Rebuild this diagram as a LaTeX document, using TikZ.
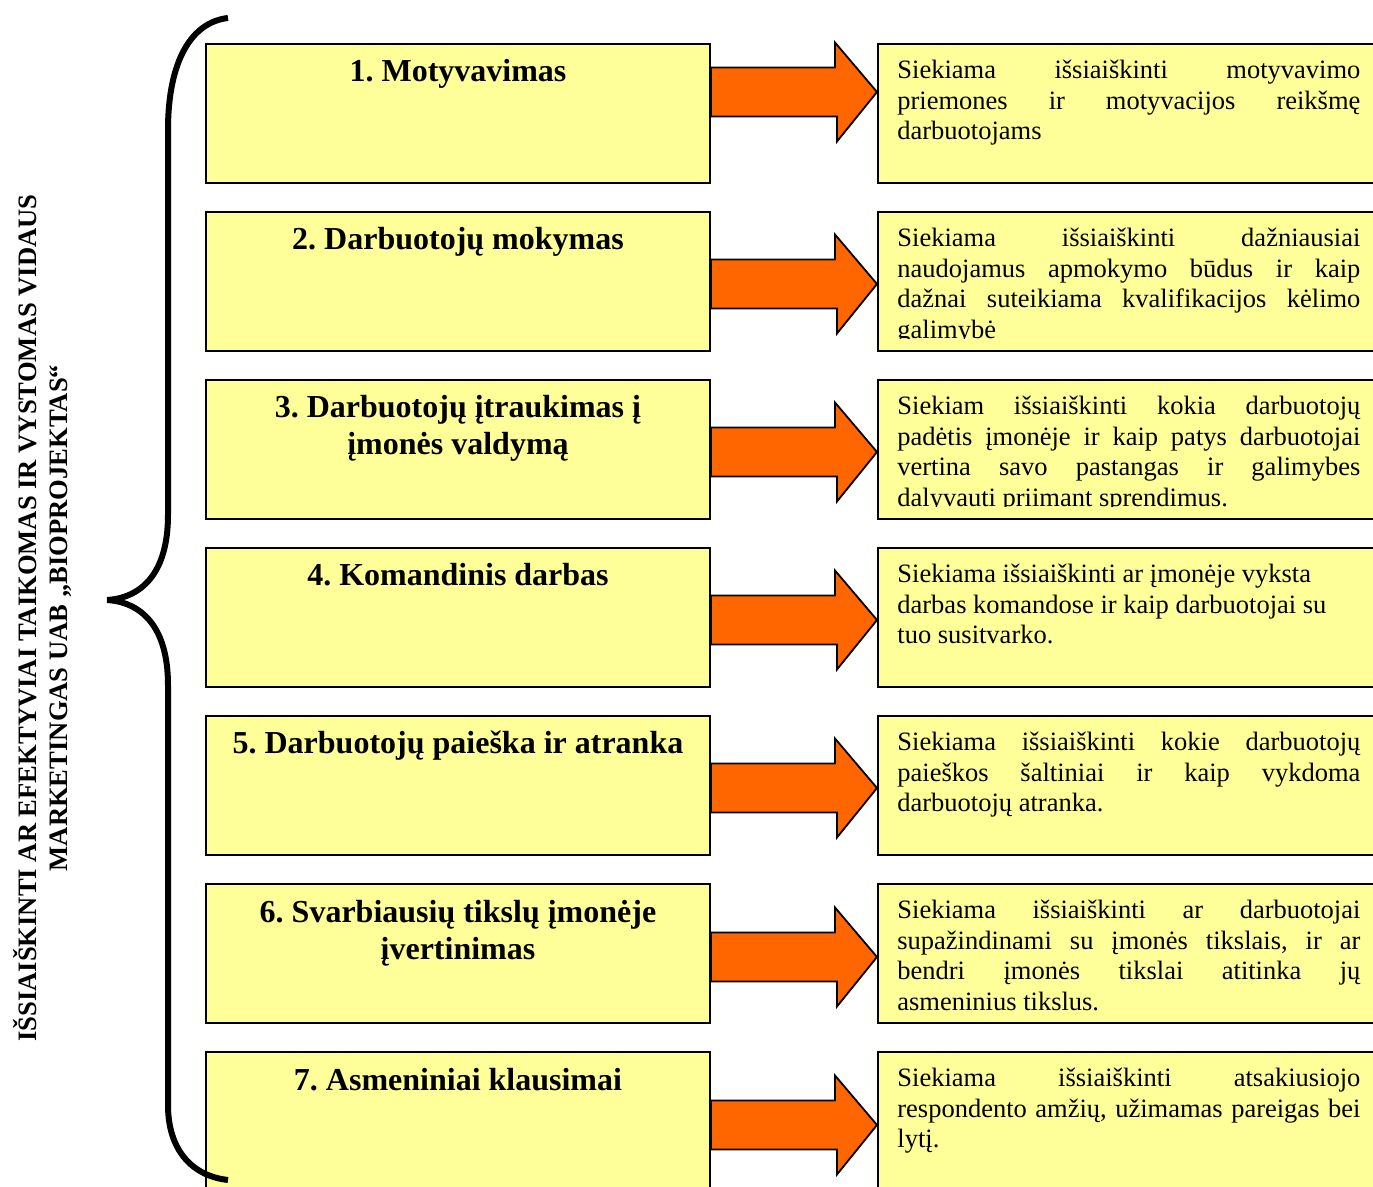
\documentclass[tikz,border=0pt]{standalone}
\usepackage{fontspec}
\setmainfont{Liberation Serif}
\usetikzlibrary{calc}
\definecolor{boxyellow}{HTML}{FFFF99}
\definecolor{arroworange}{HTML}{FF6600}
\frenchspacing
% one fully justified line of a description
\newcommand\jline[1]{\makebox[\linewidth][s]{#1}\par}
\newcommand\rline[1]{\mbox{#1}\par}
\newcommand\descfont{\fontsize{13.25pt}{15.25pt}\selectfont}
\newcommand\titlefont{\bfseries\fontsize{16pt}{18.5pt}\selectfont}

\begin{document}
\begin{tikzpicture}[x=0.5pt,y=-0.5pt,
  lbox/.style={draw=black, line width=1pt, fill=boxyellow, rectangle,
    inner sep=0pt, minimum width=252pt, minimum height=69.5pt, anchor=north west},
  rbox/.style={lbox, minimum width=262pt},
  bigarrow/.style={draw=black, line width=0.9pt, fill=arroworange, line join=miter},
  brace/.style={draw=black, line width=3pt},
  title/.style={anchor=base, inner sep=0pt},
  desc/.style={anchor=base west, inner sep=0pt}]

\useasboundingbox (0,0) rectangle (1373,1187);
\clip (0,0) rectangle (1373,1187);

% side heading
\node[rotate=90, inner sep=0pt, align=center,
      font=\bfseries\fontsize{13.3pt}{15.5pt}\selectfont] (head) at (43,618)
  {IŠSIAIŠKINTI AR EFEKTYVIAI TAIKOMAS IR VYSTOMAS VIDAUS\\
   MARKETINGAS UAB „BIOPROJEKTAS“};

% topic boxes and description boxes
\foreach \i/\top in {1/43,2/211,3/379,4/547,5/715,6/883,7/1051}{
  \node[lbox] (L\i) at (205,\top) {};
  \node[rbox] (R\i) at (877,\top) {};
}

% curly brace grouping the seven topics
\draw[brace] (228,18) .. controls (192,22) and (168,60) .. (168,130)
  -- (168,515) .. controls (168,575) and (140,598) .. (107,600)
  .. controls (140,602) and (168,625) .. (168,685)
  -- (168,1105) .. controls (168,1150) and (192,1176) .. (228,1180);

% topic titles
\begin{scope}[font=\titlefont]
\node[title] (H1) at ($(L1.north)+(0,39)$) {\parbox[t]{245pt}{\centering 1. Motyvavimas}};
\node[title] (H2) at ($(L2.north)+(0,39)$) {\parbox[t]{245pt}{\centering 2. Darbuotojų mokymas}};
\node[title] (H3) at ($(L3.north)+(0,39)$) {\parbox[t]{245pt}{\centering 3. Darbuotojų įtraukimas į\\ įmonės valdymą}};
\node[title] (H4) at ($(L4.north)+(0,39)$) {\parbox[t]{245pt}{\centering 4. Komandinis darbas}};
\node[title] (H5) at ($(L5.north)+(0,39)$) {\parbox[t]{245pt}{\centering 5. Darbuotojų paieška ir atranka}};
\node[title] (H6) at ($(L6.north)+(0,39)$) {\parbox[t]{245pt}{\centering 6. Svarbiausių tikslų įmonėje\\ įvertinimas}};
\node[title] (H7) at ($(L7.north)+(0,39)$) {\parbox[t]{245pt}{\centering 7. Asmeniniai klausimai}};
\end{scope}

% descriptions, clipped to the text area of their boxes
\begin{scope}
\clip (R2.north west) rectangle ($(R2.south east)+(0,-13)$);
\node[desc] (D2) at ($(R2.north west)+(20,36)$) {\parbox[t]{231.5pt}{\descfont
  \jline{Siekiama išsiaiškinti dažniausiai}
  \jline{naudojamus apmokymo būdus ir kaip}
  \jline{dažnai suteikiama kvalifikacijos kėlimo}
  \rline{galimybė}}};
\end{scope}
\begin{scope}
\clip (R3.north west) rectangle ($(R3.south east)+(0,-13)$);
\node[desc] (D3) at ($(R3.north west)+(20,36)$) {\parbox[t]{231.5pt}{\descfont
  \jline{Siekiam išsiaiškinti kokia darbuotojų}
  \jline{padėtis įmonėje ir kaip patys darbuotojai}
  \jline{vertina savo pastangas ir galimybes}
  \rline{dalyvauti priimant sprendimus.}}};
\end{scope}
\node[desc] (D1) at ($(R1.north west)+(20,36)$) {\parbox[t]{231.5pt}{\descfont
  \jline{Siekiama išsiaiškinti motyvavimo}
  \jline{priemones ir motyvacijos reikšmę}
  \rline{darbuotojams}}};
\node[desc] (D4) at ($(R4.north west)+(20,36)$) {\parbox[t]{231.5pt}{\descfont
  \rline{Siekiama išsiaiškinti ar įmonėje vyksta}
  \rline{darbas komandose ir kaip darbuotojai su}
  \rline{tuo susitvarko.}}};
\node[desc] (D5) at ($(R5.north west)+(20,36)$) {\parbox[t]{231.5pt}{\descfont
  \jline{Siekiama išsiaiškinti kokie darbuotojų}
  \jline{paieškos šaltiniai ir kaip vykdoma}
  \rline{darbuotojų atranka.}}};
\node[desc] (D6) at ($(R6.north west)+(20,36)$) {\parbox[t]{231.5pt}{\descfont
  \jline{Siekiama išsiaiškinti ar darbuotojai}
  \jline{supažindinami su įmonės tikslais, ir ar}
  \jline{bendri įmonės tikslai atitinka jų}
  \rline{asmeninius tikslus.}}};
\node[desc] (D7) at ($(R7.north west)+(20,36)$) {\parbox[t]{231.5pt}{\descfont
  \jline{Siekiama išsiaiškinti atsakiusiojo}
  \jline{respondento amžių, užimamas pareigas bei}
  \rline{lytį.}}};

% block arrows from each topic to its description
\foreach \i/\off in {1/49,2/73,3/73,4/73,5/73,6/74,7/74}{
  \coordinate (tip\i) at ($(R\i.north west)+(0,\off)$);
  \draw[bigarrow] (tip\i) -- ++(-42,-49.5) -- ++(0,25) -- (L\i.east |- {$(tip\i)+(0,-24.5)$})
    -- (L\i.east |- {$(tip\i)+(0,24.5)$}) -- ++(126,0) -- ++(0,25) -- cycle;
}
\end{tikzpicture}
\end{document}
